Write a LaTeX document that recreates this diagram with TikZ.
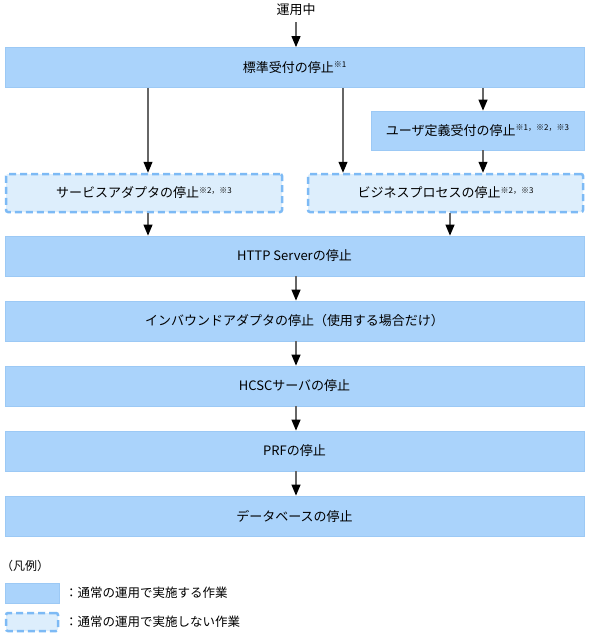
\documentclass[tikz,border=0pt]{standalone}
\usepackage{fontspec}
\setmainfont{Noto Sans CJK JP}
\usetikzlibrary{arrows.meta,calc}
\definecolor{solidfill}{HTML}{AAD3FB}
\definecolor{soliddraw}{HTML}{9CC9F5}
\definecolor{dashfill}{HTML}{DDEEFC}
\definecolor{dashdraw}{HTML}{7DBAF5}
\definecolor{linegray}{HTML}{666666}
\newcommand{\supnote}[1]{\raisebox{4.5pt}{\fontsize{8}{8}\selectfont #1}}
\tikzset{
  solidbox/.style={draw=soliddraw, fill=solidfill, line width=0.8pt, minimum height=40pt, inner sep=0pt, font=\fontsize{13}{15}\selectfont, text=black},
  dashbox/.style={draw=dashdraw, fill=dashfill, line width=2.5pt, dash pattern=on 7pt off 4pt, rounded corners=2pt, minimum height=38pt, inner sep=0pt, font=\fontsize{13}{15}\selectfont, text=black},
  arr/.style={draw=linegray, line width=1.2pt, -{Triangle[length=11pt,width=9pt,color=black,fill=black]}},
  lbl/.style={font=\fontsize{13}{15}\selectfont, inner sep=0pt}
}
\begin{document}
\begin{tikzpicture}[x=1pt,y=-1pt]
\useasboundingbox[fill=white] (0,0) rectangle (589,635);
\node[lbl] (start) at (296,10) {運用中};
\node[solidbox, minimum width=579pt] (std) at (294.5,67.5) {標準受付の停止\supnote{※1}};
\node[solidbox, minimum width=213pt, minimum height=39pt] (usr) at (477.5,130.5) {ユーザ定義受付の停止\supnote{※1，※2，※3}};
\node[dashbox, minimum width=276pt] (sva) at (144,193) {サービスアダプタの停止\supnote{※2，※3}};
\node[dashbox, minimum width=275pt] (biz) at (445.5,193) {ビジネスプロセスの停止\supnote{※2，※3}};
\node[solidbox, minimum width=579pt] (http) at (294.5,256) {HTTP Serverの停止};
\node[solidbox, minimum width=579pt] (inb) at (294.5,321) {インバウンドアダプタの停止（使用する場合だけ）};
\node[solidbox, minimum width=579pt] (hcsc) at (294.5,386) {HCSCサーバの停止};
\node[solidbox, minimum width=579pt] (prf) at (294.5,451) {PRFの停止};
\node[solidbox, minimum width=579pt] (db) at (294.5,516) {データベースの停止};

\draw[arr] (start.south |- 0,22) -- (std.north -| start.south);
\draw[arr] (std.south -| 148,0) -- (sva.north -| 148,0);
\draw[arr] (std.south -| 343,0) -- (biz.north -| 343,0);
\draw[arr] (std.south -| 483,0) -- (usr.north -| 483,0);
\draw[arr] (usr.south -| 483,0) -- (biz.north -| 483,0);
\draw[arr] (sva.south -| 148,0) -- (http.north -| 148,0);
\draw[arr] (biz.south -| 450,0) -- (http.north -| 450,0);
\draw[arr] (http.south -| 296,0) -- (inb.north -| 296,0);
\draw[arr] (inb.south -| 296,0) -- (hcsc.north -| 296,0);
\draw[arr] (hcsc.south -| 296,0) -- (prf.north -| 296,0);
\draw[arr] (prf.south -| 296,0) -- (db.north -| 296,0);

\node[lbl, anchor=west, font=\fontsize{12}{14}\selectfont] (leg) at (1,566) {（凡例）};
\node[solidbox, minimum width=54pt, minimum height=20pt] (legs) at (32,593) {};
\node[dashbox, minimum width=52pt, minimum height=18pt] (legd) at (32,622) {};
\node[lbl, anchor=west, font=\fontsize{12.5}{14}\selectfont] (legst) at (65,593) {：通常の運用で実施する作業};
\node[lbl, anchor=west, font=\fontsize{12.5}{14}\selectfont] (legdt) at (65,622) {：通常の運用で実施しない作業};
\end{tikzpicture}
\end{document}
